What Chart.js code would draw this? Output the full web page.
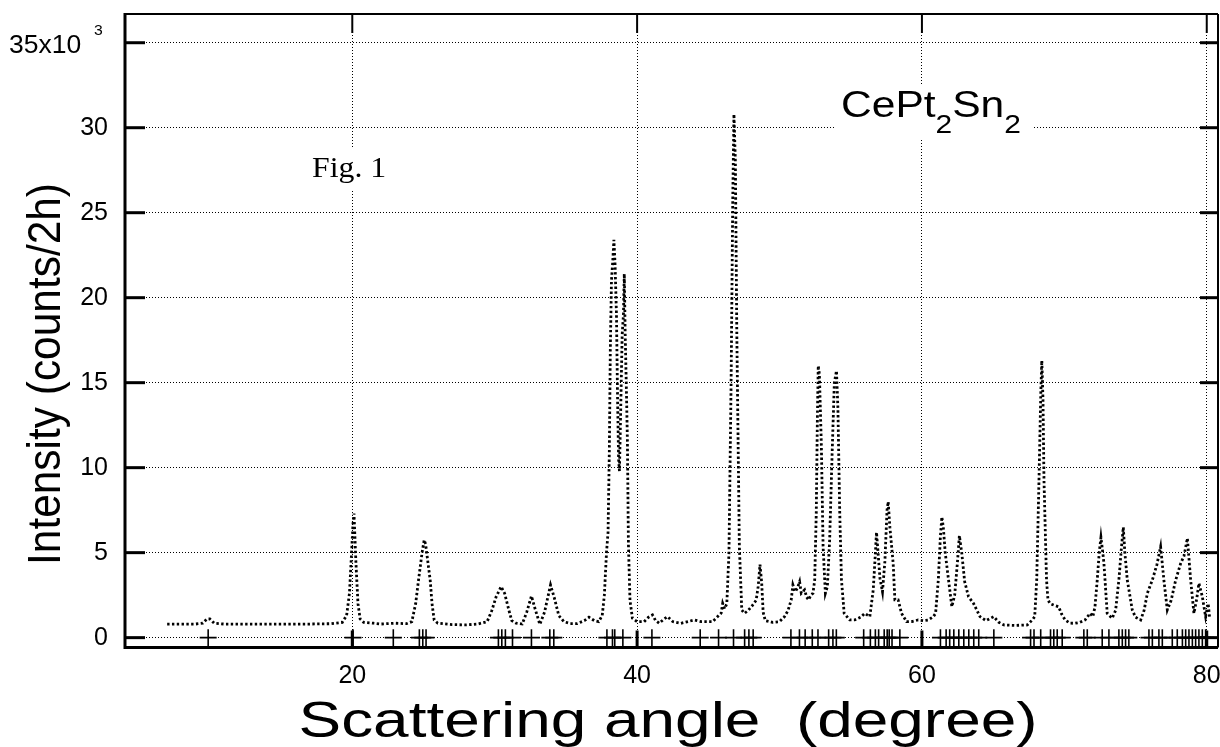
<!DOCTYPE html>
<html>
<head>
<meta charset="utf-8">
<script src="https://cdn.jsdelivr.net/npm/chart.js@4"></script>
<style>
html, body { margin: 0; padding: 0; background: #fff; }
</style>
</head>
<body>
<canvas id="chart" width="1220" height="747"></canvas>
<script>
// diffraction profile (angle in degree, counts/2h)
const angles = [
  7.0, 8.0, 9.0, 9.5, 9.8, 10.0, 10.3, 11.0, 13.0, 15.0, 17.0, 18.5, 19.3, 19.6, 19.8, 19.95,
  20.05, 20.12, 20.25, 20.4, 20.55, 20.8, 21.5, 22.0, 23.0, 23.8, 24.18, 24.45, 24.65, 24.9,
  25.05, 25.15, 25.3, 25.47, 25.6, 25.75, 26.0, 27.0, 28.0, 28.8, 29.47, 29.8, 30.1, 30.45,
  30.7, 31.0, 31.2, 31.5, 31.93, 32.25, 32.58, 32.8, 33.17, 33.5, 33.92, 34.2, 34.5, 34.86,
  35.3, 35.8, 36.3, 36.62, 37.0, 37.3, 37.55, 37.7, 37.85, 37.96, 38.05, 38.12, 38.2, 38.3,
  38.37, 38.45, 38.55, 38.62, 38.7, 38.76, 38.85, 38.95, 39.04, 39.1, 39.16, 39.25, 39.32, 39.39,
  39.5, 39.67, 40.0, 40.49, 40.8, 41.08, 41.3, 41.55, 41.9, 42.14, 42.5, 43.08, 43.6, 44.01,
  44.5, 45.3, 45.9, 46.01, 46.15, 46.3, 46.45, 46.6, 46.72, 46.8, 46.9, 47.0, 47.18, 47.35,
  47.54, 47.8, 48.1, 48.36, 48.5, 48.63, 48.75, 48.85, 49.0, 49.5, 50.0, 50.35, 50.6, 50.82,
  50.94, 51.1, 51.25, 51.41, 51.53, 51.76, 51.9, 52.04, 52.2, 52.35, 52.47, 52.58, 52.66, 52.72,
  52.8, 52.94, 53.06, 53.22, 53.36, 53.52, 53.7, 53.85, 54.0, 54.1, 54.23, 54.35, 54.54, 54.93,
  55.28, 55.7, 55.99, 56.34, 56.58, 56.7, 56.81, 56.92, 57.05, 57.23, 57.4, 57.55, 57.63, 57.75,
  57.98, 58.1, 58.33, 58.57, 58.92, 59.3, 59.74, 60.1, 60.45, 60.8, 60.96, 61.15, 61.3, 61.4,
  61.5, 61.64, 61.87, 62.1, 62.3, 62.5, 62.63, 62.8, 63.0, 63.27, 63.62, 64.08, 64.5, 65.04,
  65.4, 65.75, 66.5, 67.4, 67.75, 67.92, 68.06, 68.22, 68.35, 68.42, 68.5, 68.57, 68.75, 68.85,
  69.0, 69.3, 69.6, 69.8, 70.06, 70.4, 70.76, 71.1, 71.46, 71.81, 72.0, 72.15, 72.31, 72.45,
  72.57, 72.7, 72.78, 73.01, 73.36, 73.6, 73.83, 74.0, 74.14, 74.25, 74.42, 74.77, 75.0, 75.36,
  75.6, 75.83, 76.18, 76.5, 76.76, 76.99, 77.23, 77.5, 77.82, 78.17, 78.4, 78.64, 78.87, 79.1,
  79.3, 79.45, 79.69, 79.92, 80.1, 80.2
];
const counts = [
  800, 800, 800, 850, 1100, 1100, 850, 800, 790, 800, 800, 820, 900, 1300, 2600, 5000,
  6700, 7300, 4500, 2000, 1100, 900, 850, 800, 850, 820, 940, 2000, 3390, 5000,
  5745, 5500, 4500, 3390, 2000, 1040, 850, 770, 750, 800, 940, 1600, 2400, 3000,
  2600, 1600, 1000, 850, 800, 1500, 2450, 1800, 780, 1500, 3100, 2300, 1300, 940,
  830, 830, 1000, 1200, 1000, 940, 1300, 2500, 5000, 6200, 11000, 17000, 21000, 22300,
  23400, 22000, 19000, 14500, 10500, 9800, 13500, 17800, 19000, 21400, 18000, 14500, 11500, 5500,
  2200, 1140, 940, 940, 1200, 1335, 1000, 845, 1100, 1235, 950, 845, 950, 1040,
  940, 940, 1440, 2020, 1700, 2000, 5000, 15000, 26000, 30800, 28000, 18000, 5350, 1630,
  1430, 1600, 1900, 2200, 3000, 4300, 3200, 1500, 1000, 900, 940, 1235, 1600, 2220,
  3100, 2700, 2900, 3290, 2610, 2810, 2400, 2220, 2500, 2610, 3390, 7310, 13000, 16000,
  15500, 11230, 5350, 2610, 3000, 5745, 11000, 15000, 15700, 13500, 7310, 3390, 1430, 1040,
  1040, 1200, 1430, 1235, 2810, 4500, 6200, 5000, 3500, 2700, 4500, 7500, 8000, 6500,
  4370, 2220, 2220, 1430, 940, 950, 1040, 1000, 1040, 1235, 1430, 3390, 6000, 7100,
  6500, 4960, 3390, 1820, 2500, 4500, 6000, 4960, 3300, 2410, 2020, 1235, 1000, 1235,
  900, 745, 720, 745, 1040, 1235, 3390, 9280, 14500, 16300, 14000, 9280, 3390, 2220,
  2000, 1900, 1820, 1400, 1040, 850, 845, 900, 1040, 1430, 1235, 1800, 3390, 5000,
  5900, 5000, 4370, 1430, 1140, 1600, 3390, 5200, 6500, 5000, 3390, 1630, 1200, 1040,
  1600, 2610, 3390, 4300, 5350, 3390, 1630, 2200, 3390, 4370, 4800, 5845, 3390, 1430,
  2300, 3200, 2410, 1235, 2000, 1200
];
// reflection positions marked with + along zero
const braggPositions = [
  9.88, 20.05, 22.88, 24.71, 24.95, 25.18, 30.26, 30.5, 30.75, 31.25, 32.58, 33.87, 34.15,
  37.88, 38.27, 38.43, 39.0, 41.04, 44.43, 45.72, 46.77, 47.55, 47.85, 48.15, 50.8, 51.4,
  51.8, 52.3, 52.7, 53.45, 53.75, 53.99, 55.91, 56.38, 56.73, 56.96, 57.35, 57.56, 57.7,
  57.9, 58.45, 61.3, 61.7, 61.95, 62.24, 62.59, 62.94, 63.29, 63.64, 63.99, 65.05, 67.63,
  67.87, 68.34, 69.03, 69.26, 69.5, 69.85, 71.37, 71.61, 72.66, 73.13, 73.83, 74.07, 74.3,
  74.53, 75.94, 76.18, 76.64, 76.88, 77.58, 77.93, 78.29, 78.52, 78.75, 78.99, 79.22,
  79.45, 79.69, 79.92
];
const xTicks = [20, 40, 60, 80];
const yTicks = [0, 5000, 10000, 15000, 20000, 25000, 30000, 35000];

const STRETCH = 1.15; // text in the picture is a bit wider than tall

function line(ctx, x1, y1, x2, y2) {
  ctx.beginPath();
  ctx.moveTo(x1, y1);
  ctx.lineTo(x2, y2);
  ctx.stroke();
}

// draws text squeezed/stretched to a given length along its direction
function fitText(ctx, text, x, y, font, length, angle) {
  ctx.save();
  ctx.translate(x, y);
  ctx.rotate(angle);
  ctx.font = font;
  const w = ctx.measureText(text).width;
  ctx.scale(length / w, 1);
  ctx.textAlign = 'center';
  ctx.textBaseline = 'alphabetic';
  ctx.fillText(text, 0, 0);
  ctx.restore();
}

// runs of text with their own size and baseline shift (for subscripts)
function drawRuns(ctx, runs, x, y, sx) {
  ctx.save();
  ctx.translate(x, y);
  ctx.scale(sx, 1);
  ctx.textAlign = 'left';
  ctx.textBaseline = 'alphabetic';
  let cx = 0;
  runs.forEach(r => {
    ctx.font = r.font;
    ctx.fillText(r.text, cx, r.dy || 0);
    cx += ctx.measureText(r.text).width;
  });
  ctx.restore();
}

// no extra room for labels: the frame sits where the picture has it
function noPad(s) {
  s.paddingLeft = 0;
  s.paddingRight = 0;
  s.paddingTop = 0;
  s.paddingBottom = 0;
}

const framePlugin = {
  id: 'frame',
  afterDraw(chart) {
    const { ctx, chartArea: a, scales: { x, y } } = chart;
    ctx.save();
    ctx.strokeStyle = '#000';
    ctx.fillStyle = '#000';

    // frame, heavier on left and bottom
    ctx.lineWidth = 3;
    line(ctx, a.left, a.top - 1, a.left, a.bottom + 1.5);
    line(ctx, a.left, a.bottom, a.right, a.bottom);
    ctx.lineWidth = 2;
    line(ctx, a.left, a.top, a.right, a.top);
    line(ctx, a.right, a.top, a.right, a.bottom);

    // ticks pointing inward on every side
    ctx.lineWidth = 3;
    yTicks.forEach(v => {
      const py = y.getPixelForValue(v);
      line(ctx, a.left, py, a.left + 20, py);
      line(ctx, a.right - 18, py, a.right, py);
    });
    xTicks.forEach(v => {
      const px = x.getPixelForValue(v);
      line(ctx, px, a.bottom, px, a.bottom - 17);
      ctx.lineWidth = 2;
      line(ctx, px, a.top, px, a.top + 19);
      ctx.lineWidth = 3;
    });

    // top y label with its exponent
    const top = y.getPixelForValue(35000);
    drawRuns(ctx, [{ text: '35x10', font: '25px "Liberation Sans"' }], 9, top + 10, 1.06);
    drawRuns(ctx, [{ text: '3', font: '15px "Liberation Sans"' }], 94, top - 8, 1.05);

    // axis titles
    fitText(ctx, 'Scattering angle  (degree)', 668, 737, '50px "Liberation Sans"', 739, 0);
    fitText(ctx, 'Intensity (counts/2h)', 60, 374, '46px "Liberation Sans"', 382, -Math.PI / 2);

    // Fig. 1 with a white patch over the grid
    ctx.fillStyle = '#fff';
    ctx.fillRect(306, 148, 86, 42);
    ctx.fillStyle = '#000';
    drawRuns(ctx, [{ text: 'Fig. 1', font: '30px "Liberation Serif"' }], 312, 177, 1.06);

    // compound name
    ctx.fillStyle = '#fff';
    ctx.fillRect(836, 84, 196, 54);
    ctx.fillStyle = '#000';
    drawRuns(ctx, [
      { text: 'CePt', font: '37px "Liberation Sans"' },
      { text: '2', font: '26px "Liberation Sans"', dy: 16 },
      { text: 'Sn', font: '37px "Liberation Sans"' },
      { text: '2', font: '26px "Liberation Sans"', dy: 16 }
    ], 841, 117, STRETCH);

    ctx.restore();
  }
};

new Chart(document.getElementById('chart').getContext('2d'), {
  type: 'scatter',
  data: {
    datasets: [
      {
        label: 'observed',
        data: angles.map((a, i) => ({ x: a, y: counts[i] })),
        showLine: true,
        borderColor: '#000',
        borderWidth: 2.8,
        borderDash: [2.4, 2.4],
        pointRadius: 0,
        tension: 0
      },
      {
        label: 'reflections',
        data: braggPositions.map(p => ({ x: p, y: 0 })),
        pointStyle: 'cross',
        pointRadius: 8.5,
        borderColor: '#000',
        borderWidth: 1.6,
        backgroundColor: '#000'
      }
    ]
  },
  options: {
    responsive: false,
    animation: false,
    devicePixelRatio: 1,
    layout: { autoPadding: false, padding: { left: 0, top: 14, right: 2, bottom: 0 } },
    plugins: { legend: { display: false }, tooltip: { enabled: false } },
    scales: {
      x: {
        type: 'linear',
        min: 4.04,
        max: 80.79,
        afterBuildTicks: s => { s.ticks = xTicks.map(v => ({ value: v })); },
        afterFit: s => { s.height = 99.5; noPad(s); },
        grid: { color: '#000', lineWidth: 1, drawTicks: false },
        border: { display: false, dash: [1, 2] },
        ticks: {
          color: '#000',
          padding: 14,
          font: { family: 'Liberation Sans', size: 25 },
          maxRotation: 0
        }
      },
      y: {
        type: 'linear',
        min: -580,
        max: 36690,
        afterBuildTicks: s => { s.ticks = yTicks.map(v => ({ value: v })); },
        afterFit: s => { s.width = 125; noPad(s); },
        grid: { color: '#000', lineWidth: 1, drawTicks: false },
        border: { display: false, dash: [1, 2] },
        ticks: {
          color: '#000',
          padding: 17,
          font: { family: 'Liberation Sans', size: 25 },
          callback: v => (v === 35000 ? '' : v / 1000)
        }
      }
    }
  },
  plugins: [framePlugin]
});
</script>
</body>
</html>
